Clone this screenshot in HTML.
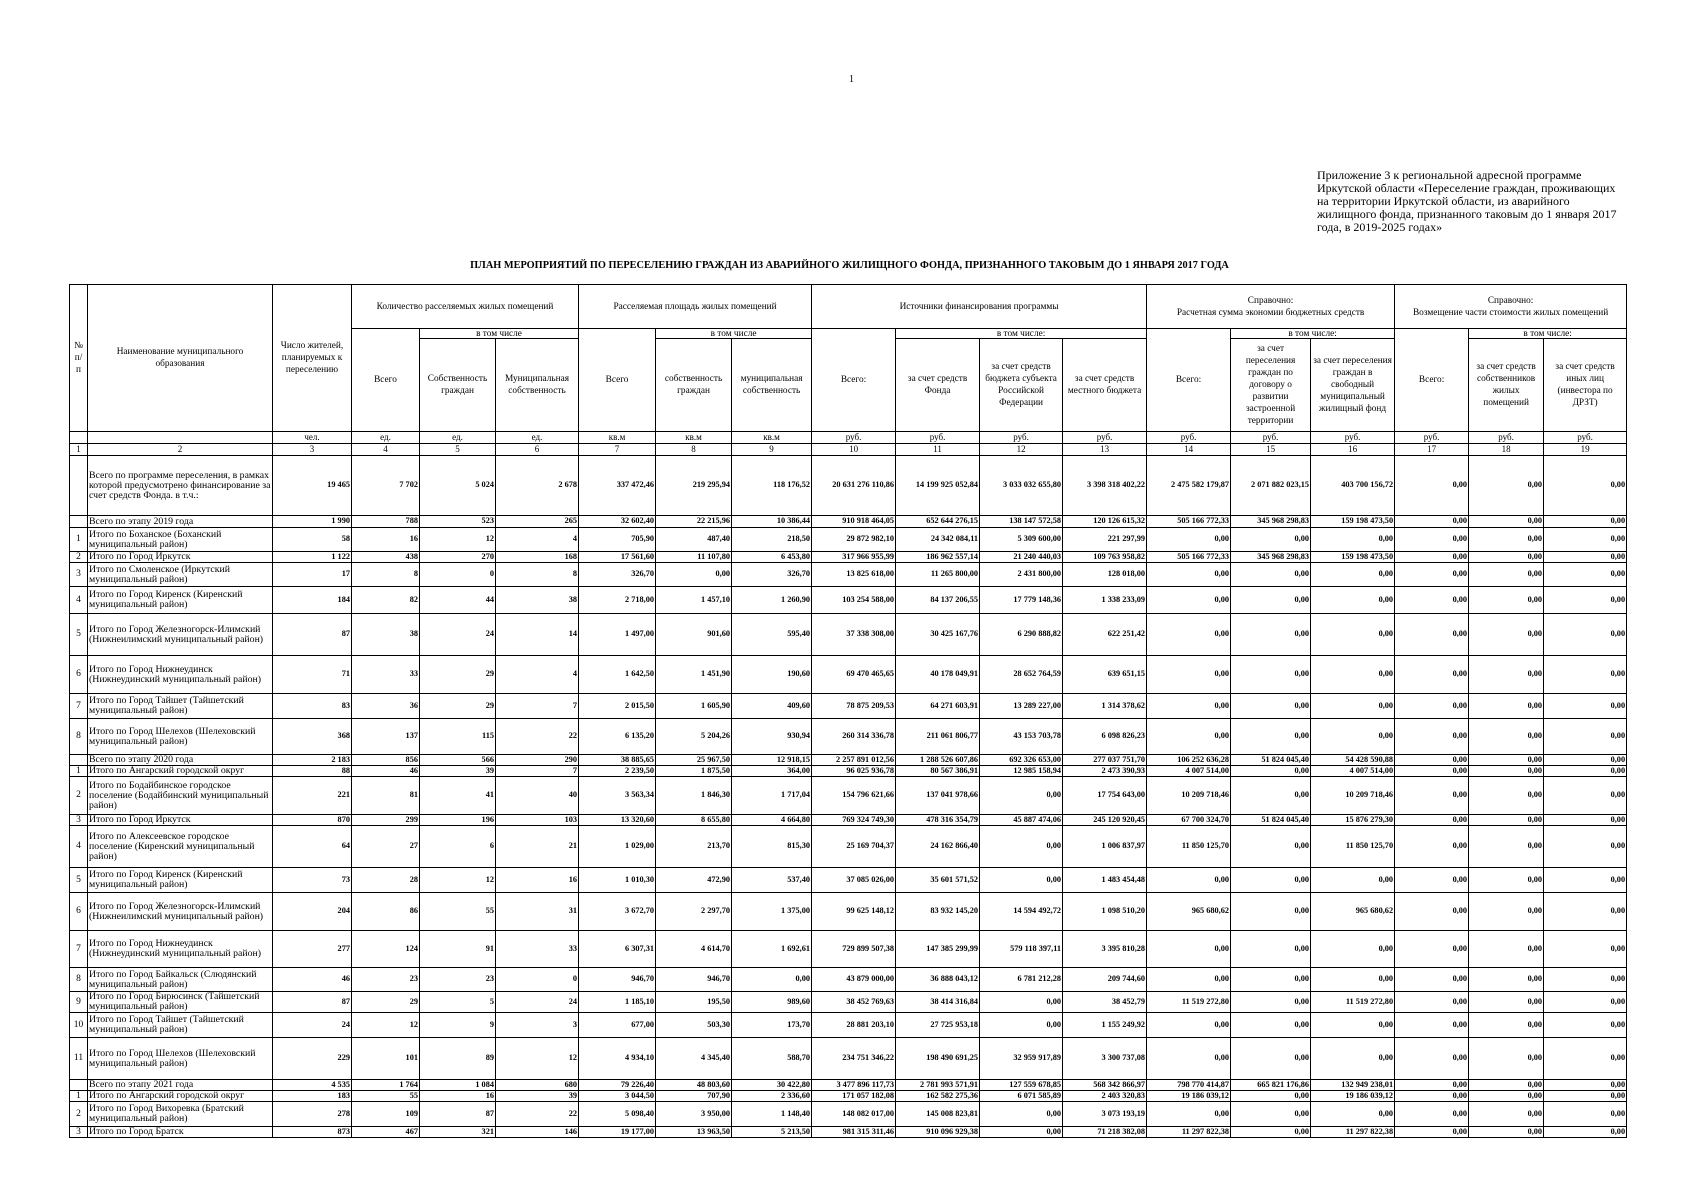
<!DOCTYPE html>
<html><head><meta charset="utf-8">
<style>
html,body{margin:0;padding:0;background:#fff;}
body{width:1699px;height:1200px;position:relative;overflow:hidden;font-family:"Liberation Serif",serif;color:#000;}
.pn{position:absolute;left:849px;top:74px;font-size:10px;}
.app{position:absolute;left:1317px;top:169px;font-size:12px;line-height:13px;width:300px;}
.ttl{position:absolute;left:0;width:1699px;top:260px;text-align:center;font-size:10.3px;font-weight:bold;}
table{position:absolute;left:69px;top:284px;border-collapse:collapse;table-layout:fixed;width:1557px;}
td{border:1px solid #000;padding:0 1px;font-size:8.3px;line-height:8.6px;text-align:right;vertical-align:middle;overflow:hidden;white-space:nowrap;font-weight:bold;}
td.n{text-align:left;white-space:normal;font-size:9.8px;line-height:10px;font-weight:normal;}
td.c{text-align:center;white-space:normal;font-size:9.5px;font-weight:normal;}
.h td{text-align:center;white-space:normal;font-size:9.3px;line-height:12px;font-weight:normal;}
.u td{font-size:9px;line-height:9px;text-align:center;font-weight:normal;}
</style></head><body>
<div class="pn">1</div>
<div class="app">Приложение 3 к региональной адресной программе Иркутской области «Переселение граждан, проживающих на территории Иркутской области, из аварийного жилищного фонда, признанного таковым до 1 января 2017 года, в 2019-2025 годах»</div>
<div class="ttl">ПЛАН МЕРОПРИЯТИЙ ПО ПЕРЕСЕЛЕНИЮ ГРАЖДАН ИЗ АВАРИЙНОГО ЖИЛИЩНОГО ФОНДА, ПРИЗНАННОГО ТАКОВЫМ ДО 1 ЯНВАРЯ 2017 ГОДА</div>
<table>
<colgroup><col style="width:18px"><col style="width:185px"><col style="width:79px"><col style="width:68px"><col style="width:76px"><col style="width:83px"><col style="width:77px"><col style="width:76px"><col style="width:80px"><col style="width:84px"><col style="width:84px"><col style="width:83px"><col style="width:84px"><col style="width:84px"><col style="width:80px"><col style="width:84px"><col style="width:74px"><col style="width:75px"><col style="width:83px"></colgroup>
<tr class="h" style="height:44px"><td rowspan="3">№<br>п/<br>п</td><td rowspan="3">Наименование муниципального<br>образования</td><td rowspan="3">Число жителей, планируемых к переселению</td><td colspan="3">Количество расселяемых жилых помещений</td><td colspan="3">Расселяемая площадь жилых помещений</td><td colspan="4">Источники финансирования программы</td><td colspan="3">Справочно:<br>Расчетная сумма экономии бюджетных средств</td><td colspan="3">Справочно:<br>Возмещение части стоимости жилых помещений</td></tr>
<tr class="h" style="height:10px"><td rowspan="2">Всего</td><td colspan="2" style="line-height:8px">в том числе</td><td rowspan="2">Всего</td><td colspan="2" style="line-height:8px">в том числе</td><td rowspan="2">Всего:</td><td colspan="3" style="line-height:8px">в том числе:</td><td rowspan="2">Всего:</td><td colspan="2" style="line-height:8px">в том числе:</td><td rowspan="2">Всего:</td><td colspan="2" style="line-height:8px">в том числе:</td></tr>
<tr class="h" style="height:93px"><td>Собственность граждан</td><td>Муниципальная собственность</td><td>собственность граждан</td><td>муниципальная собственность</td><td>за счет средств Фонда</td><td>за счет средств бюджета субъекта Российской Федерации</td><td>за счет средств местного бюджета</td><td>за счет переселения граждан по договору о развитии застроенной территории</td><td>за счет переселения граждан в свободный муниципальный жилищный фонд</td><td>за счет средств собственников жилых помещений</td><td>за счет средств иных лиц (инвестора по ДРЗТ)</td></tr>
<tr class="u" style="height:12px"><td></td><td></td><td>чел.</td><td>ед.</td><td>ед.</td><td>ед.</td><td>кв.м</td><td>кв.м</td><td>кв.м</td><td>руб.</td><td>руб.</td><td>руб.</td><td>руб.</td><td>руб.</td><td>руб.</td><td>руб.</td><td>руб.</td><td>руб.</td><td>руб.</td></tr>
<tr class="u" style="height:12px"><td>1</td><td>2</td><td>3</td><td>4</td><td>5</td><td>6</td><td>7</td><td>8</td><td>9</td><td>10</td><td>11</td><td>12</td><td>13</td><td>14</td><td>15</td><td>16</td><td>17</td><td>18</td><td>19</td></tr>
<tr style="height:60px"><td class="c"></td><td class="n">Всего по программе переселения, в рамках которой предусмотрено финансирование за счет средств Фонда. в т.ч.:</td><td>19 465</td><td>7 702</td><td>5 024</td><td>2 678</td><td>337 472,46</td><td>219 295,94</td><td>118 176,52</td><td>20 631 276 110,86</td><td>14 199 925 052,84</td><td>3 033 032 655,80</td><td>3 398 318 402,22</td><td>2 475 582 179,87</td><td>2 071 882 023,15</td><td>403 700 156,72</td><td>0,00</td><td>0,00</td><td>0,00</td></tr>
<tr style="height:12px"><td class="c"></td><td class="n">Всего по этапу 2019 года</td><td>1 990</td><td>788</td><td>523</td><td>265</td><td>32 602,40</td><td>22 215,96</td><td>10 386,44</td><td>910 918 464,05</td><td>652 644 276,15</td><td>138 147 572,58</td><td>120 126 615,32</td><td>505 166 772,33</td><td>345 968 298,83</td><td>159 198 473,50</td><td>0,00</td><td>0,00</td><td>0,00</td></tr>
<tr style="height:24px"><td class="c">1</td><td class="n">Итого по Боханское (Боханский муниципальный район)</td><td>58</td><td>16</td><td>12</td><td>4</td><td>705,90</td><td>487,40</td><td>218,50</td><td>29 872 982,10</td><td>24 342 084,11</td><td>5 309 600,00</td><td>221 297,99</td><td>0,00</td><td>0,00</td><td>0,00</td><td>0,00</td><td>0,00</td><td>0,00</td></tr>
<tr style="height:10px"><td class="c">2</td><td class="n">Итого по Город Иркутск</td><td>1 122</td><td>438</td><td>270</td><td>168</td><td>17 561,60</td><td>11 107,80</td><td>6 453,80</td><td>317 966 955,99</td><td>186 962 557,14</td><td>21 240 440,03</td><td>109 763 958,82</td><td>505 166 772,33</td><td>345 968 298,83</td><td>159 198 473,50</td><td>0,00</td><td>0,00</td><td>0,00</td></tr>
<tr style="height:24px"><td class="c">3</td><td class="n">Итого по Смоленское (Иркутский муниципальный район)</td><td>17</td><td>8</td><td>0</td><td>8</td><td>326,70</td><td>0,00</td><td>326,70</td><td>13 825 618,00</td><td>11 265 800,00</td><td>2 431 800,00</td><td>128 018,00</td><td>0,00</td><td>0,00</td><td>0,00</td><td>0,00</td><td>0,00</td><td>0,00</td></tr>
<tr style="height:27px"><td class="c">4</td><td class="n">Итого по Город Киренск (Киренский муниципальный район)</td><td>184</td><td>82</td><td>44</td><td>38</td><td>2 718,00</td><td>1 457,10</td><td>1 260,90</td><td>103 254 588,00</td><td>84 137 206,55</td><td>17 779 148,36</td><td>1 338 233,09</td><td>0,00</td><td>0,00</td><td>0,00</td><td>0,00</td><td>0,00</td><td>0,00</td></tr>
<tr style="height:42px"><td class="c">5</td><td class="n">Итого по Город Железногорск-Илимский (Нижнеилимский муниципальный район)</td><td>87</td><td>38</td><td>24</td><td>14</td><td>1 497,00</td><td>901,60</td><td>595,40</td><td>37 338 308,00</td><td>30 425 167,76</td><td>6 290 888,82</td><td>622 251,42</td><td>0,00</td><td>0,00</td><td>0,00</td><td>0,00</td><td>0,00</td><td>0,00</td></tr>
<tr style="height:38px"><td class="c">6</td><td class="n">Итого по Город Нижнеудинск (Нижнеудинский муниципальный район)</td><td>71</td><td>33</td><td>29</td><td>4</td><td>1 642,50</td><td>1 451,90</td><td>190,60</td><td>69 470 465,65</td><td>40 178 049,91</td><td>28 652 764,59</td><td>639 651,15</td><td>0,00</td><td>0,00</td><td>0,00</td><td>0,00</td><td>0,00</td><td>0,00</td></tr>
<tr style="height:25px"><td class="c">7</td><td class="n">Итого по Город Тайшет (Тайшетский муниципальный район)</td><td>83</td><td>36</td><td>29</td><td>7</td><td>2 015,50</td><td>1 605,90</td><td>409,60</td><td>78 875 209,53</td><td>64 271 603,91</td><td>13 289 227,00</td><td>1 314 378,62</td><td>0,00</td><td>0,00</td><td>0,00</td><td>0,00</td><td>0,00</td><td>0,00</td></tr>
<tr style="height:36px"><td class="c">8</td><td class="n">Итого по Город Шелехов (Шелеховский муниципальный район)</td><td>368</td><td>137</td><td>115</td><td>22</td><td>6 135,20</td><td>5 204,26</td><td>930,94</td><td>260 314 336,78</td><td>211 061 806,77</td><td>43 153 703,78</td><td>6 098 826,23</td><td>0,00</td><td>0,00</td><td>0,00</td><td>0,00</td><td>0,00</td><td>0,00</td></tr>
<tr style="height:11px"><td class="c"></td><td class="n">Всего по этапу 2020 года</td><td>2 183</td><td>856</td><td>566</td><td>290</td><td>38 885,65</td><td>25 967,50</td><td>12 918,15</td><td>2 257 891 012,56</td><td>1 288 526 607,86</td><td>692 326 653,00</td><td>277 037 751,70</td><td>106 252 636,28</td><td>51 824 045,40</td><td>54 428 590,88</td><td>0,00</td><td>0,00</td><td>0,00</td></tr>
<tr style="height:11px"><td class="c">1</td><td class="n">Итого по Ангарский городской округ</td><td>88</td><td>46</td><td>39</td><td>7</td><td>2 239,50</td><td>1 875,50</td><td>364,00</td><td>96 025 936,78</td><td>80 567 386,91</td><td>12 985 158,94</td><td>2 473 390,93</td><td>4 007 514,00</td><td>0,00</td><td>4 007 514,00</td><td>0,00</td><td>0,00</td><td>0,00</td></tr>
<tr style="height:38px"><td class="c">2</td><td class="n">Итого по Бодайбинское городское поселение (Бодайбинский муниципальный район)</td><td>221</td><td>81</td><td>41</td><td>40</td><td>3 563,34</td><td>1 846,30</td><td>1 717,04</td><td>154 796 621,66</td><td>137 041 978,66</td><td>0,00</td><td>17 754 643,00</td><td>10 209 718,46</td><td>0,00</td><td>10 209 718,46</td><td>0,00</td><td>0,00</td><td>0,00</td></tr>
<tr style="height:11px"><td class="c">3</td><td class="n">Итого по Город Иркутск</td><td>870</td><td>299</td><td>196</td><td>103</td><td>13 320,60</td><td>8 655,80</td><td>4 664,80</td><td>769 324 749,30</td><td>478 316 354,79</td><td>45 887 474,06</td><td>245 120 920,45</td><td>67 700 324,70</td><td>51 824 045,40</td><td>15 876 279,30</td><td>0,00</td><td>0,00</td><td>0,00</td></tr>
<tr style="height:42px"><td class="c">4</td><td class="n">Итого по Алексеевское городское поселение (Киренский муниципальный район)</td><td>64</td><td>27</td><td>6</td><td>21</td><td>1 029,00</td><td>213,70</td><td>815,30</td><td>25 169 704,37</td><td>24 162 866,40</td><td>0,00</td><td>1 006 837,97</td><td>11 850 125,70</td><td>0,00</td><td>11 850 125,70</td><td>0,00</td><td>0,00</td><td>0,00</td></tr>
<tr style="height:25px"><td class="c">5</td><td class="n">Итого по Город Киренск (Киренский муниципальный район)</td><td>73</td><td>28</td><td>12</td><td>16</td><td>1 010,30</td><td>472,90</td><td>537,40</td><td>37 085 026,00</td><td>35 601 571,52</td><td>0,00</td><td>1 483 454,48</td><td>0,00</td><td>0,00</td><td>0,00</td><td>0,00</td><td>0,00</td><td>0,00</td></tr>
<tr style="height:38px"><td class="c">6</td><td class="n">Итого по Город Железногорск-Илимский (Нижнеилимский муниципальный район)</td><td>204</td><td>86</td><td>55</td><td>31</td><td>3 672,70</td><td>2 297,70</td><td>1 375,00</td><td>99 625 148,12</td><td>83 932 145,20</td><td>14 594 492,72</td><td>1 098 510,20</td><td>965 680,62</td><td>0,00</td><td>965 680,62</td><td>0,00</td><td>0,00</td><td>0,00</td></tr>
<tr style="height:37px"><td class="c">7</td><td class="n">Итого по Город Нижнеудинск (Нижнеудинский муниципальный район)</td><td>277</td><td>124</td><td>91</td><td>33</td><td>6 307,31</td><td>4 614,70</td><td>1 692,61</td><td>729 899 507,38</td><td>147 385 299,99</td><td>579 118 397,11</td><td>3 395 810,28</td><td>0,00</td><td>0,00</td><td>0,00</td><td>0,00</td><td>0,00</td><td>0,00</td></tr>
<tr style="height:24px"><td class="c">8</td><td class="n">Итого по Город Байкальск (Слюдянский муниципальный район)</td><td>46</td><td>23</td><td>23</td><td>0</td><td>946,70</td><td>946,70</td><td>0,00</td><td>43 879 000,00</td><td>36 888 043,12</td><td>6 781 212,28</td><td>209 744,60</td><td>0,00</td><td>0,00</td><td>0,00</td><td>0,00</td><td>0,00</td><td>0,00</td></tr>
<tr style="height:21px"><td class="c">9</td><td class="n">Итого по Город Бирюсинск (Тайшетский муниципальный район)</td><td>87</td><td>29</td><td>5</td><td>24</td><td>1 185,10</td><td>195,50</td><td>989,60</td><td>38 452 769,63</td><td>38 414 316,84</td><td>0,00</td><td>38 452,79</td><td>11 519 272,80</td><td>0,00</td><td>11 519 272,80</td><td>0,00</td><td>0,00</td><td>0,00</td></tr>
<tr style="height:25px"><td class="c">10</td><td class="n">Итого по Город Тайшет (Тайшетский муниципальный район)</td><td>24</td><td>12</td><td>9</td><td>3</td><td>677,00</td><td>503,30</td><td>173,70</td><td>28 881 203,10</td><td>27 725 953,18</td><td>0,00</td><td>1 155 249,92</td><td>0,00</td><td>0,00</td><td>0,00</td><td>0,00</td><td>0,00</td><td>0,00</td></tr>
<tr style="height:42px"><td class="c">11</td><td class="n">Итого по Город Шелехов (Шелеховский муниципальный район)</td><td>229</td><td>101</td><td>89</td><td>12</td><td>4 934,10</td><td>4 345,40</td><td>588,70</td><td>234 751 346,22</td><td>198 490 691,25</td><td>32 959 917,89</td><td>3 300 737,08</td><td>0,00</td><td>0,00</td><td>0,00</td><td>0,00</td><td>0,00</td><td>0,00</td></tr>
<tr style="height:11px"><td class="c"></td><td class="n">Всего по этапу 2021 года</td><td>4 535</td><td>1 764</td><td>1 084</td><td>680</td><td>79 226,40</td><td>48 803,60</td><td>30 422,80</td><td>3 477 896 117,73</td><td>2 781 993 571,91</td><td>127 559 678,85</td><td>568 342 866,97</td><td>798 770 414,87</td><td>665 821 176,86</td><td>132 949 238,01</td><td>0,00</td><td>0,00</td><td>0,00</td></tr>
<tr style="height:10px"><td class="c">1</td><td class="n">Итого по Ангарский городской округ</td><td>183</td><td>55</td><td>16</td><td>39</td><td>3 044,50</td><td>707,90</td><td>2 336,60</td><td>171 057 182,08</td><td>162 582 275,36</td><td>6 071 585,89</td><td>2 403 320,83</td><td>19 186 039,12</td><td>0,00</td><td>19 186 039,12</td><td>0,00</td><td>0,00</td><td>0,00</td></tr>
<tr style="height:25px"><td class="c">2</td><td class="n">Итого по Город Вихоревка (Братский муниципальный район)</td><td>278</td><td>109</td><td>87</td><td>22</td><td>5 098,40</td><td>3 950,00</td><td>1 148,40</td><td>148 082 017,00</td><td>145 008 823,81</td><td>0,00</td><td>3 073 193,19</td><td>0,00</td><td>0,00</td><td>0,00</td><td>0,00</td><td>0,00</td><td>0,00</td></tr>
<tr style="height:10px"><td class="c">3</td><td class="n">Итого по Город Братск</td><td>873</td><td>467</td><td>321</td><td>146</td><td>19 177,00</td><td>13 963,50</td><td>5 213,50</td><td>981 315 311,46</td><td>910 096 929,38</td><td>0,00</td><td>71 218 382,08</td><td>11 297 822,38</td><td>0,00</td><td>11 297 822,38</td><td>0,00</td><td>0,00</td><td>0,00</td></tr>
</table>
</body></html>
